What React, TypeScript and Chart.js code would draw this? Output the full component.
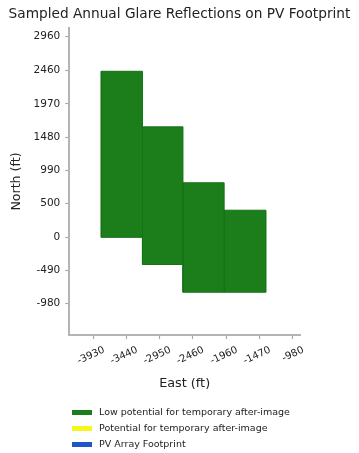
import React, { useEffect, useRef } from "react";
import { Chart, registerables } from "chart.js";

Chart.register(...registerables);

const FONT = "'DejaVu Sans', sans-serif";

const chartTitle = "Sampled Annual Glare Reflections on PV Footprint";
const xAxisTitle = "East (ft)";
const yAxisTitle = "North (ft)";

const xTickLabels = [-3930, -3440, -2950, -2460, -1960, -1470, -980];
const yTickLabels = [2960, 2460, 1970, 1480, 990, 500, 0, -490, -980];

const xRange = [-4284, -866];
const yRange = [-1441, 3088];

// glare sample blocks (low potential for temporary after-image)
const blockEastMin = [-3810, -3200, -2600, -1990];
const blockEastMax = [-3200, -2600, -1990, -1370];
const blockNorthMin = [0, -400, -810, -810];
const blockNorthMax = [2450, 1630, 805, 400];

const legendLabels = [
  "Low potential for temporary after-image",
  "Potential for temporary after-image",
  "PV Array Footprint",
];
const legendColors = ["#1b7d1b", "#f7f71e", "#1f55c8"];

export default function App() {
  const canvasRef = useRef<HTMLCanvasElement | null>(null);

  useEffect(() => {
    const canvas = canvasRef.current;
    if (!canvas) return;

    const datasets = blockEastMin.map((x0, i) => {
      const x1 = blockEastMax[i];
      const y0 = blockNorthMin[i];
      const y1 = blockNorthMax[i];
      return {
        label: legendLabels[0],
        data: [
          { x: x0, y: y0 },
          { x: x1, y: y0 },
          { x: x1, y: y1 },
          { x: x0, y: y1 },
          { x: x0, y: y0 },
        ],
        showLine: true,
        fill: "shape" as any,
        backgroundColor: "rgb(27,126,27)",
        borderColor: "rgb(21,114,21)",
        borderWidth: 1,
        pointRadius: 0,
        tension: 0,
        xAxisID: "x",
        yAxisID: "y",
      };
    });

    const chart = new Chart(canvas, {
      type: "line",
      data: { datasets: datasets as any },
      options: {
        responsive: false,
        animation: false,
        layout: { padding: { left: 0, right: 0, top: 0, bottom: 60 } },
        plugins: {
          legend: { display: false },
          tooltip: { enabled: false },
          title: {
            display: true,
            text: chartTitle,
            color: "#222",
            font: { family: FONT, size: 13.7, weight: "normal" },
            padding: { top: 6, bottom: 5.6 },
          },
        },
        scales: {
          x: {
            type: "linear",
            position: "bottom",
            min: xRange[0],
            max: xRange[1],
            afterBuildTicks: (s: any) => {
              s.ticks = xTickLabels.map((v) => ({ value: v }));
            },
            afterFit: (s: any) => {
              s.height = 58;
            },
            ticks: {
              autoSkip: false,
              minRotation: 25,
              maxRotation: 25,
              labelOffset: 11,
              padding: 5,
              color: "#222",
              font: { family: FONT, size: 10 },
              callback: (v: any) => String(v),
            },
            grid: {
              drawOnChartArea: false,
              drawTicks: true,
              tickLength: 4,
              color: "#a8a8a8",
              tickWidth: 1.2,
            },
            border: { display: true, color: "#b4b4b4", width: 2 },
            title: {
              display: true,
              text: xAxisTitle,
              color: "#222",
              font: { family: FONT, size: 12.8 },
              padding: { top: 0, bottom: 1.5 },
            },
          },
          y: {
            type: "linear",
            position: "left",
            min: yRange[0],
            max: yRange[1],
            afterBuildTicks: (s: any) => {
              s.ticks = yTickLabels.map((v) => ({ value: v }));
            },
            afterFit: (s: any) => {
              s.width = 69.3;
            },
            ticks: {
              autoSkip: false,
              padding: 5,
              color: "#222",
              font: { family: FONT, size: 10.5 },
              callback: (v: any) => String(v),
            },
            grid: {
              drawOnChartArea: false,
              drawTicks: true,
              tickLength: 4,
              color: "#a8a8a8",
              tickWidth: 1.2,
            },
            border: { display: true, color: "#b4b4b4", width: 2 },
            title: {
              display: true,
              text: yAxisTitle,
              color: "#222",
              font: { family: FONT, size: 12.6 },
              padding: { top: 9, bottom: 0 },
            },
          },
          yRight: {
            type: "linear",
            position: "right",
            display: true,
            ticks: { display: false },
            grid: { display: false },
            border: { display: false },
            afterFit: (s: any) => {
              s.width = 59;
            },
          },
        },
      },
    });

    return () => chart.destroy();
  }, []);

  return (
    <div
      style={{
        position: "absolute",
        left: 0,
        top: 0,
        width: 359,
        height: 453,
        background: "#fff",
        fontFamily: FONT,
      }}
    >
      <canvas
        ref={canvasRef}
        width={359}
        height={453}
        style={{ position: "absolute", left: 0, top: 0, width: 359, height: 453 }}
      />
      {legendLabels.map((label, i) => (
        <div
          key={label}
          style={{
            position: "absolute",
            left: 72,
            top: 405 + i * 16,
            height: 14,
            display: "flex",
            alignItems: "center",
            whiteSpace: "nowrap",
          }}
        >
          <span
            style={{
              display: "inline-block",
              width: 20,
              height: 5,
              background: legendColors[i],
              marginRight: 7,
            }}
          />
          <span style={{ fontSize: 9.5, color: "#222", lineHeight: "14px" }}>{label}</span>
        </div>
      ))}
    </div>
  );
}
